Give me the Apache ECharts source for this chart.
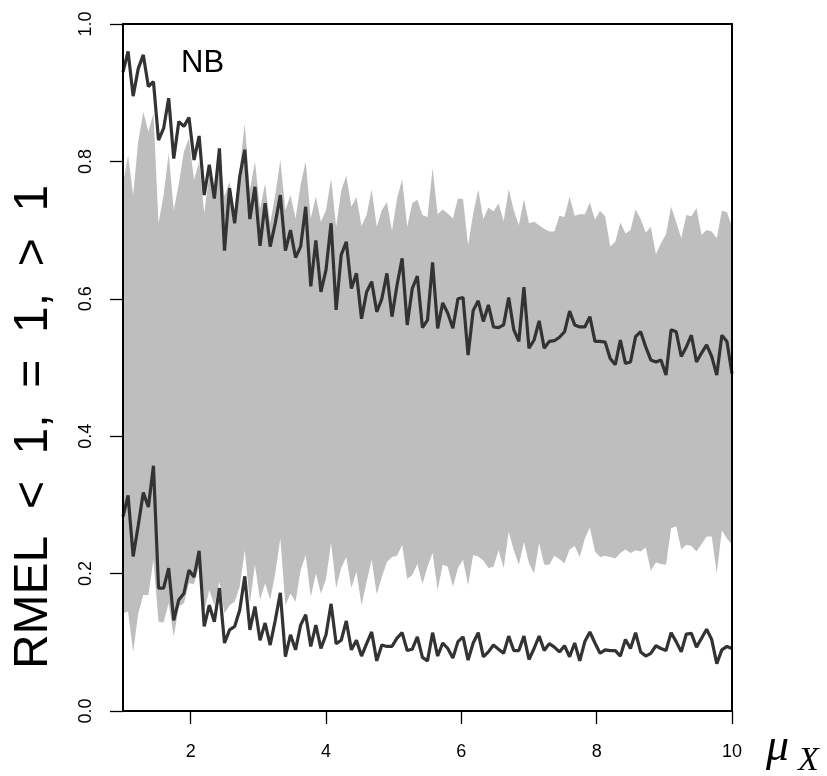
<!DOCTYPE html>
<html>
<head>
<meta charset="utf-8">
<script src="https://cdn.jsdelivr.net/npm/echarts@6/dist/echarts.min.js"></script>
<style>html,body{margin:0;padding:0;background:#fff}#c{width:827px;height:776px}</style>
</head>
<body>
<div id="c"></div>
<script>
// x grid: mu_X from 1 to 10, 121 points
const mu = Array.from({length: 121}, (_, i) => Math.round((1 + i * 0.075) * 1000) / 1000);
const xTicks = [2, 4, 6, 8, 10];
const yTicks = [0, 0.2, 0.4, 0.6, 0.8, 1.0];

const upperLine = [0.93,0.96,0.895,0.935,0.955,0.909,0.916,0.831,0.848,0.892,
0.804,0.858,0.851,0.864,0.802,0.837,0.751,0.795,0.746,0.819,
0.670,0.761,0.710,0.778,0.817,0.716,0.763,0.677,0.739,0.676,
0.710,0.751,0.670,0.700,0.660,0.676,0.734,0.618,0.685,0.610,
0.642,0.710,0.584,0.664,0.683,0.615,0.637,0.571,0.610,0.625,
0.581,0.600,0.637,0.574,0.620,0.659,0.562,0.615,0.633,0.558,
0.569,0.653,0.557,0.594,0.579,0.557,0.600,0.602,0.518,0.583,
0.597,0.567,0.591,0.559,0.558,0.562,0.602,0.555,0.538,0.617,
0.528,0.540,0.568,0.528,0.538,0.539,0.544,0.552,0.582,0.562,
0.559,0.559,0.574,0.538,0.538,0.537,0.513,0.504,0.540,0.506,
0.508,0.545,0.552,0.530,0.511,0.508,0.511,0.489,0.555,0.552,
0.516,0.530,0.547,0.508,0.521,0.533,0.516,0.489,0.547,0.538,0.491];

const lowerLine = [0.283,0.314,0.225,0.270,0.318,0.297,0.357,0.179,0.179,0.208,
0.132,0.162,0.171,0.205,0.195,0.233,0.123,0.154,0.130,0.179,
0.099,0.118,0.123,0.147,0.196,0.118,0.152,0.103,0.128,0.096,
0.132,0.172,0.079,0.111,0.089,0.125,0.140,0.094,0.125,0.091,
0.111,0.156,0.098,0.103,0.131,0.089,0.103,0.080,0.098,0.115,
0.073,0.096,0.094,0.094,0.106,0.114,0.088,0.090,0.108,0.078,
0.073,0.114,0.080,0.099,0.091,0.077,0.101,0.108,0.074,0.099,
0.114,0.079,0.086,0.096,0.090,0.084,0.109,0.088,0.088,0.109,
0.075,0.091,0.109,0.088,0.098,0.093,0.086,0.095,0.079,0.099,
0.073,0.101,0.115,0.099,0.084,0.089,0.088,0.088,0.080,0.104,
0.091,0.114,0.086,0.080,0.084,0.095,0.091,0.088,0.114,0.101,
0.086,0.112,0.113,0.093,0.106,0.119,0.104,0.069,0.089,0.094,0.091];

const bandTop = [0.768,0.809,0.751,0.829,0.872,0.843,0.870,0.710,0.751,0.812,
0.729,0.768,0.814,0.834,0.773,0.800,0.725,0.780,0.744,0.817,
0.749,0.770,0.729,0.790,0.855,0.758,0.800,0.731,0.768,0.710,
0.751,0.802,0.729,0.751,0.717,0.766,0.800,0.717,0.749,0.712,
0.729,0.775,0.705,0.758,0.779,0.734,0.748,0.706,0.722,0.759,
0.705,0.729,0.741,0.699,0.746,0.774,0.705,0.739,0.744,0.722,
0.719,0.790,0.723,0.730,0.724,0.717,0.746,0.745,0.678,0.724,
0.759,0.716,0.733,0.727,0.739,0.713,0.760,0.729,0.707,0.745,
0.710,0.712,0.707,0.702,0.698,0.698,0.721,0.719,0.749,0.721,
0.723,0.723,0.740,0.715,0.728,0.720,0.676,0.683,0.711,0.695,
0.700,0.730,0.716,0.696,0.705,0.665,0.681,0.694,0.734,0.712,
0.688,0.722,0.720,0.732,0.693,0.700,0.698,0.688,0.728,0.726,0.705];

const bandBottom = [0.142,0.145,0.086,0.142,0.169,0.169,0.220,0.130,0.129,0.157,
0.108,0.152,0.157,0.186,0.185,0.211,0.145,0.176,0.154,0.188,
0.142,0.154,0.159,0.181,0.234,0.157,0.213,0.162,0.186,0.162,
0.200,0.251,0.154,0.171,0.159,0.205,0.227,0.166,0.200,0.171,
0.192,0.245,0.179,0.208,0.224,0.179,0.203,0.154,0.188,0.220,
0.170,0.195,0.217,0.224,0.226,0.242,0.192,0.198,0.214,0.185,
0.210,0.230,0.176,0.213,0.210,0.181,0.208,0.220,0.183,0.227,
0.225,0.219,0.208,0.210,0.234,0.208,0.261,0.234,0.213,0.246,
0.215,0.200,0.244,0.213,0.213,0.226,0.221,0.215,0.235,0.240,
0.224,0.251,0.267,0.232,0.224,0.226,0.224,0.222,0.230,0.235,
0.230,0.234,0.232,0.238,0.204,0.216,0.214,0.213,0.266,0.269,
0.235,0.242,0.240,0.232,0.243,0.254,0.254,0.200,0.263,0.251,0.242];

const SANS = '"Liberation Sans", Arial, Helvetica, sans-serif';
const SERIF = '"Liberation Serif", "DejaVu Serif", serif';

const chart = echarts.init(document.getElementById('c'), null, {renderer: 'canvas'});

const pairs = arr => mu.map((x, i) => [x, arr[i]]);

const option = {
  animation: false,
  backgroundColor: '#ffffff',
  grid: {left: 123, right: 95, top: 24, bottom: 65},
  xAxis: [{
    type: 'value', min: 1, max: 10, position: 'bottom', z: 10,
    axisLine: {show: true, onZero: false, lineStyle: {color: '#000', width: 2}},
    axisTick: {show: true, length: 13, customValues: xTicks, lineStyle: {color: '#000', width: 1.3}},
    axisLabel: {show: true, customValues: xTicks, margin: 32, color: '#000', fontSize: 18, fontFamily: SANS},
    splitLine: {show: false}
  }, {
    type: 'value', min: 1, max: 10, position: 'top', z: 10,
    axisLine: {show: true, onZero: false, lineStyle: {color: '#000', width: 2}},
    axisTick: {show: false}, axisLabel: {show: false}, splitLine: {show: false}
  }],
  yAxis: [{
    type: 'value', min: 0, max: 1, interval: 0.2, position: 'left', z: 10,
    axisLine: {show: true, onZero: false, lineStyle: {color: '#000', width: 2}},
    axisTick: {show: true, length: 13, lineStyle: {color: '#000', width: 1.3}},
    axisLabel: {show: true, rotate: 90, margin: 28, color: '#000', fontSize: 18, fontFamily: SANS,
      formatter: v => v.toFixed(1)},
    splitLine: {show: false}
  }, {
    type: 'value', min: 0, max: 1, position: 'right', z: 10,
    axisLine: {show: true, onZero: false, lineStyle: {color: '#000', width: 2}},
    axisTick: {show: false}, axisLabel: {show: false}, splitLine: {show: false}
  }],
  series: [{
    type: 'custom',
    name: 'band',
    z: 1,
    silent: true,
    data: [[mu[0], bandTop[0]]],
    renderItem: function (params, api) {
      const pts = [];
      for (let i = 0; i < mu.length; i++) pts.push(api.coord([mu[i], bandTop[i]]));
      for (let i = mu.length - 1; i >= 0; i--) pts.push(api.coord([mu[i], bandBottom[i]]));
      return {type: 'polygon', shape: {points: pts}, style: {fill: '#bebebe', stroke: null}};
    }
  }, {
    type: 'line', name: 'upper', z: 3,
    data: pairs(upperLine), showSymbol: false, symbol: 'none',
    lineStyle: {color: '#333333', width: 3.2}
  }, {
    type: 'line', name: 'lower', z: 3,
    data: pairs(lowerLine), showSymbol: false, symbol: 'none',
    lineStyle: {color: '#333333', width: 3.2}
  }],
  graphic: [{
    type: 'text', left: 181, top: 48, z: 20,
    style: {text: 'NB', font: '31px ' + SANS, fill: '#000'}
  }, {
    type: 'text', x: 34, y: 427, rotation: Math.PI / 2, z: 20,
    style: {text: 'RMEL  <  1,  =  1,  >  1', font: '48px ' + SANS, fill: '#000',
      textAlign: 'center', textVerticalAlign: 'middle'}
  }, {
    type: 'text', x: 766, y: 748, z: 20,
    style: {text: 'μ', font: 'italic 46px ' + SERIF, fill: '#000', textAlign: 'left', textVerticalAlign: 'middle'}
  }, {
    type: 'text', x: 798, y: 761, z: 20,
    style: {text: 'X', font: 'italic 34px ' + SERIF, fill: '#000', textAlign: 'left', textVerticalAlign: 'middle'}
  }]
};
chart.setOption(option);
</script>
</body>
</html>
